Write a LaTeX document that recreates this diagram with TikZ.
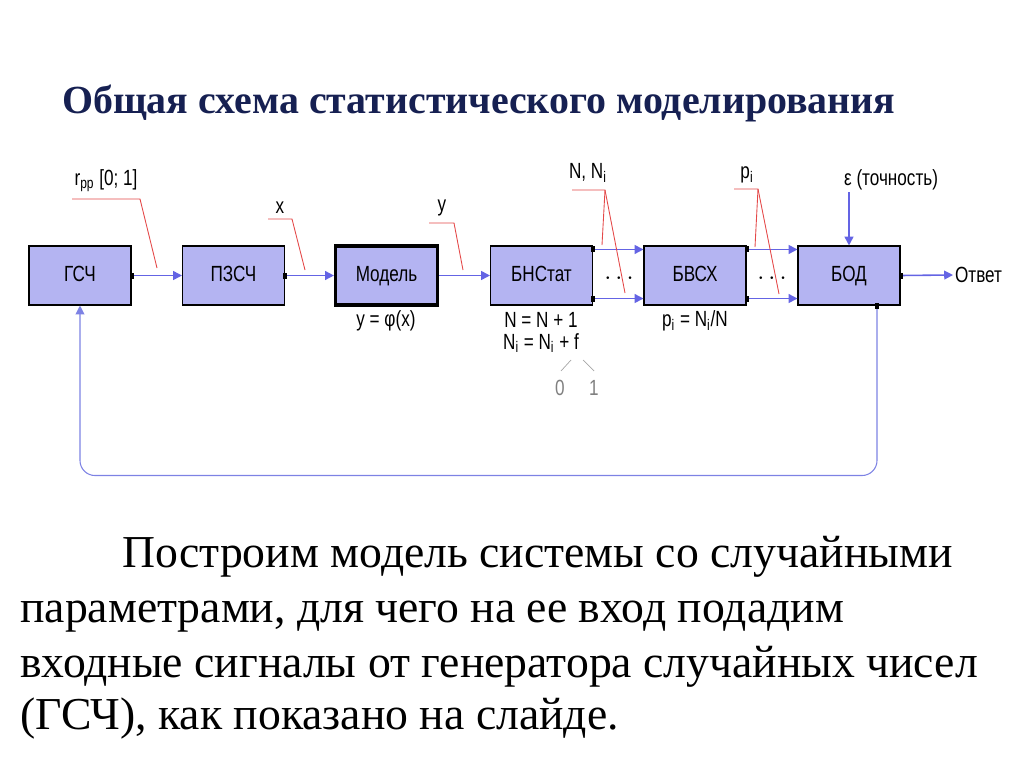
\documentclass[tikz,border=0pt]{standalone}
\usepackage{fontspec}
\setmainfont{Liberation Serif}
\newfontfamily\diafont[FakeStretch=0.78]{Liberation Sans}
\usetikzlibrary{arrows.meta,calc}

\definecolor{boxfill}{RGB}{180,180,242}
\definecolor{flowblue}{RGB}{100,100,228}
\definecolor{fbblue}{RGB}{125,130,228}
\definecolor{calloutred}{RGB}{228,72,72}
\definecolor{headblue}{RGB}{22,32,82}

\tikzset{
  blk/.style={draw=black, line width=0.6pt, fill=boxfill,
    minimum width=2.04cm, minimum height=1.18cm, inner sep=0pt,
    text height=0.72em, text depth=0pt,
    font=\diafont\fontsize{12.5}{14}\selectfont},
  lbl/.style={inner sep=1pt, font=\diafont\fontsize{12.5}{14}\selectfont},
  flow/.style={flowblue, line width=0.9pt, -{Triangle[length=5pt,width=5pt]}},
  feedback/.style={fbblue, line width=0.6pt, rounded corners=0.3cm,
    -{Triangle[length=5pt,width=5pt]}},
  callout/.style={calloutred, line width=0.5pt},
  para/.style={anchor=base west, inner sep=0pt, font=\fontsize{26}{32}\selectfont}
}

\begin{document}
\begin{tikzpicture}[x=0.02cm,y=-0.02cm]
\useasboundingbox (0,0) rectangle (1024,767);

% title
\node[anchor=base west, inner sep=0pt, text=headblue,
  font=\bfseries\fontsize{22.7}{28}\selectfont] (head) at (62,113)
  {Общая схема статистического моделирования};

% blocks
\node[blk] (gsch)  at (80,275.5)    {ГСЧ};
\node[blk] (pzsch) at (233.5,275.5) {ПЗСЧ};
\node[blk, line width=1.8pt] (model) at (386.5,275.5) {Модель};
\node[blk] (bns)   at (541.5,275.5) {БНСтат};
\node[blk] (bvsx)  at (695,275.5)   {БВСХ};
\node[blk] (bod)   at (849,275.5)   {БОД};

% outputs of the two blocks with many lines
\coordinate (bnsT)  at ([yshift=-0.08cm]bns.north east);
\coordinate (bnsB)  at ([yshift=0.14cm]bns.south east);
\coordinate (bvsxT) at ([yshift=-0.08cm]bvsx.north east);
\coordinate (bvsxB) at ([yshift=0.14cm]bvsx.south east);
\coordinate (fbout) at ([xshift=0.56cm]bod.south);

% connectors
\draw[flow] (gsch.east) -- (pzsch.west);
\draw[flow] (pzsch.east) -- (model.west);
\draw[flow] (model.east) -- (bns.west);
\draw[flow] (bnsT) -- (bnsT -| bvsx.west);
\draw[flow] (bnsB) -- (bnsB -| bvsx.west);
\draw[flow] (bvsxT) -- (bvsxT -| bod.west);
\draw[flow] (bvsxB) -- (bvsxB -| bod.west);
\node[font=\Large] (gap1) at (619,279) {$\cdots$};
\node[font=\Large] (gap2) at (772,279) {$\cdots$};

\node[lbl, anchor=west] (otvet) at (953,275) {Ответ};
\draw[flow] (bod.east) -- (otvet.west);

\node[lbl, anchor=west] (eps) at (842,180) {ε (точность)};
\draw[flow] (eps.south west -| bod.north) -- (bod.north);

\draw[feedback] (fbout) -- ++(0,170) -| (gsch.south);

% port marks
\foreach \p in {gsch.east, pzsch.east, bnsT, bnsB, bvsxT, bvsxB, bod.east, fbout}
  \fill (\p) ++(-2,-3) rectangle ++(4,6);

% callouts
\node[lbl] (rpp) at (106,181) {r\textsubscript{pp} [0; 1]};
\draw[callout] (72,199) -- (140,199) -- (157,268);
\node[lbl] (xin) at (280,208) {x};
\draw[callout] (268,219) -- (292,219) -- (305,270);
\node[lbl] (yin) at (442,208) {y};
\draw[callout] (429,223) -- (454,223) -- (463,270);
\node[lbl] (nni) at (588,173) {N, N\textsubscript{i}};
\draw[callout] (572,190) -- (605,190) -- (602,245);
\draw[callout] (605,190) -- (625,293);
\node[lbl] (pin) at (747,175) {p\textsubscript{i}};
\draw[callout] (734,189) -- (758,189) -- (755,247);
\draw[callout] (758,189) -- (779,294);

% formulas under blocks
\node[lbl] (fmodel) at (386,321) {y = φ(x)};
\node[lbl] (fn)     at (541,320) {N = N + 1};
\node[lbl] (fni)    at (541,343) {N\textsubscript{i} = N\textsubscript{i} + f};
\node[lbl] (fpi)    at (695,321) {p\textsubscript{i} = N\textsubscript{i}/N};
\node[lbl, text=gray] (zero) at (560,388) {0};
\node[lbl, text=gray] (one)  at (594,388) {1};
\draw[gray!70, line width=0.4pt] (561,371) -- (571,360);
\draw[gray!70, line width=0.4pt] (583,360) -- (594,371);

% text below
\node[para] (l1) at (122,567) {Построим модель системы со случайными};
\node[para] (l2) at (20,622)  {параметрами, для чего на ее вход подадим};
\node[para] (l3) at (20,677)  {входные сигналы от генератора случайных чисел};
\node[para] (l4) at (20,729)  {(ГСЧ), как показано на слайде.};
\end{tikzpicture}
\end{document}
